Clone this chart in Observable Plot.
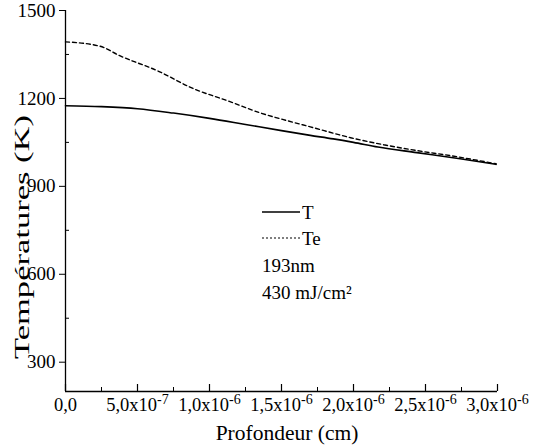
<!DOCTYPE html>
<html>
<head>
<meta charset="utf-8">
<script src="https://cdn.jsdelivr.net/npm/d3@7"></script>
<script src="https://cdn.jsdelivr.net/npm/@observablehq/plot@0.6"></script>
<style>
  html, body { margin: 0; padding: 0; background: #fff; }
  #wrap { position: relative; width: 550px; height: 447px; }
  #overlay { position: absolute; left: 0; top: 0; pointer-events: none; }
</style>
</head>
<body>
<div id="wrap"></div>
<script>
// Data
const depthT  = [0, 2.5e-7, 5e-7, 7.5e-7, 1.0e-6, 1.24e-6, 1.5e-6, 1.7e-6, 1.86e-6, 2.0e-6, 2.17e-6, 2.44e-6, 2.74e-6, 2.99e-6];
const tempT   = [1175, 1172, 1165, 1150, 1132, 1112, 1090, 1074, 1062, 1050, 1034, 1015, 994, 975];
const depthTe = [0, 2.4e-7, 3.8e-7, 6.4e-7, 8.9e-7, 1.125e-6, 1.35e-6, 1.54e-6, 1.7e-6, 1.98e-6, 2.21e-6, 2.44e-6, 2.67e-6, 2.99e-6];
const tempTe  = [1393, 1378, 1345, 1294, 1233, 1192, 1151, 1124, 1103, 1066, 1042, 1022, 1005, 977];

const yTicks      = [300, 600, 900, 1200, 1500];
const yMinorTicks = [450, 750, 1050, 1350];
const xTicks      = [0, 5e-7, 1e-6, 1.5e-6, 2e-6, 2.5e-6, 3e-6];
const xMinorTicks = [2.5e-7, 7.5e-7, 1.25e-6, 1.75e-6, 2.25e-6, 2.75e-6];

const xTitle = "Profondeur (cm)";
const yTitle = "Températures (K)";
const legendItems = ["T", "Te"];
const annotations = ["193nm", "430 mJ/cm²"];

const seriesT  = depthT.map((d, i) => ({depth: d, temp: tempT[i]}));
const seriesTe = depthTe.map((d, i) => ({depth: d, temp: tempTe[i]}));

const W = 550, H = 447, mL = 65, mR = 53, mT = 10, mB = 56;
const frameW = W - mL - mR, frameH = H - mT - mB;
const FONT = "Liberation Serif";

function fmtX(d) {
  if (d === 0) return "0,0";
  const e = Math.floor(Math.log10(d) + 1e-9);
  const m = d / Math.pow(10, e);
  return m.toFixed(1).replace(".", ",") + "x10|" + e;
}

const chart = Plot.plot({
  width: W, height: H,
  marginLeft: mL, marginRight: mR, marginTop: mT, marginBottom: mB,
  style: {fontFamily: FONT, fontSize: "18px", color: "#000", background: "#fff"},
  x: {domain: [0, 3e-6], ticks: xTicks, tickSize: 0, tickPadding: 6, tickFormat: fmtX, label: null},
  y: {domain: [200, 1500], ticks: yTicks, tickSize: 6, tickPadding: 4, tickFormat: d => String(d), label: null},
  marks: [
    Plot.ruleX([0], {stroke: "#000", strokeWidth: 1.3}),
    Plot.ruleY([200], {stroke: "#000", strokeWidth: 1.3}),
    Plot.tickX(xTicks, {x: d => d, insetTop: frameH - 7, stroke: "#000", strokeWidth: 1.2}),
    Plot.tickX(xMinorTicks, {x: d => d, insetTop: frameH - 4, stroke: "#000", strokeWidth: 1}),
    Plot.tickY(yMinorTicks, {y: d => d, insetRight: frameW - 4, stroke: "#000", strokeWidth: 1}),
    Plot.line(seriesT, {x: "depth", y: "temp", stroke: "#000", strokeWidth: 1.6, curve: "monotone-x"}),
    Plot.line(seriesTe, {x: "depth", y: "temp", stroke: "#000", strokeWidth: 1.4, strokeDasharray: "4,3", curve: "monotone-x"})
  ]
});

// tick label sizes and superscripts
d3.select(chart).selectAll("g").attr("font-size", null);
d3.select(chart).selectAll("text").each(function() {
  const t = this.textContent;
  const sel = d3.select(this);
  if (t && t.includes("|") && this.children.length === 0) {
    const [base, exp] = t.split("|");
    sel.text(null);
    sel.append("tspan").text(base);
    sel.append("tspan").attr("dy", "-0.5em").attr("font-size", "14px").text("-" + exp.replace("-", ""));
    sel.attr("font-size", "18.5px");
  } else if (t === "0,0") {
    sel.attr("font-size", "18.5px");
  } else {
    sel.attr("font-size", "19px");
  }
  sel.style("font-size", null);
});

const wrap = document.getElementById("wrap");
wrap.appendChild(chart);

// titles, legend and annotations overlay
const ov = d3.select(wrap).append("svg").attr("id", "overlay").attr("width", W).attr("height", H);
ov.append("text").attr("transform", "translate(22,237) rotate(-90)").attr("text-anchor", "middle")
  .attr("dy", "0.35em").attr("font-size", "21px").attr("textLength", 244).attr("lengthAdjust", "spacingAndGlyphs").text(yTitle);
ov.append("text").attr("x", 287).attr("y", 432).attr("text-anchor", "middle")
  .attr("dy", "0.35em").attr("font-size", "21.5px").text(xTitle);
const styles = [{dash: null, w: 1.6}, {dash: "2,2", w: 1.2}];
legendItems.forEach((name, i) => {
  const y = 212 + i * 26;
  ov.append("line").attr("x1", 262).attr("x2", 300).attr("y1", y).attr("y2", y)
    .attr("stroke", "#000").attr("stroke-width", styles[i].w).attr("stroke-dasharray", styles[i].dash);
  ov.append("text").attr("x", 302).attr("y", y).attr("dy", "0.35em").attr("font-size", "19px").text(name);
});
annotations.forEach((txt, i) => {
  ov.append("text").attr("x", 262).attr("y", 265 + i * 27).attr("dy", "0.35em").attr("font-size", "19px").text(txt);
});

d3.select(wrap).selectAll("svg text, svg tspan").attr("font-family", FONT);
</script>
</body>
</html>
